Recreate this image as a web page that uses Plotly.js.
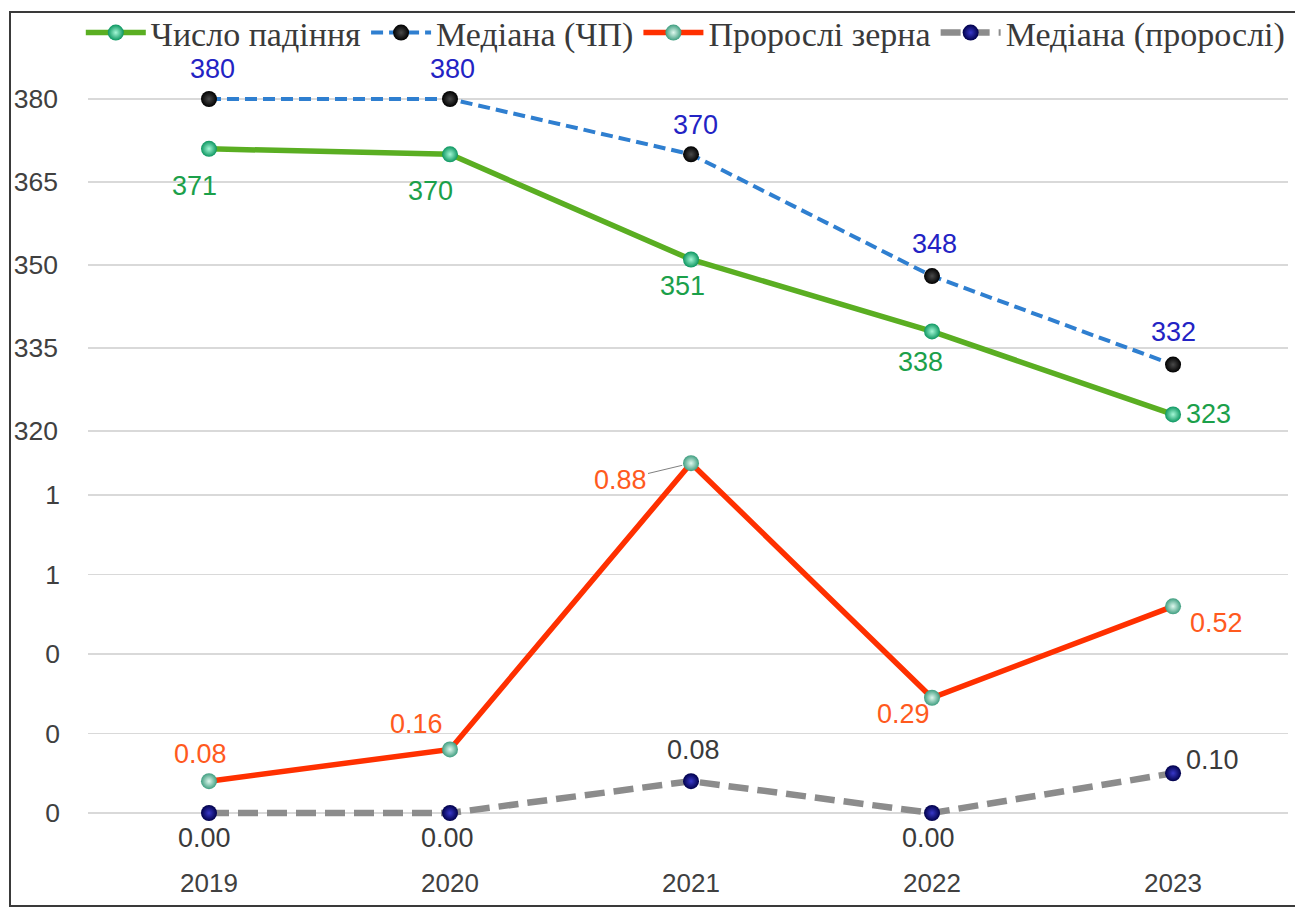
<!DOCTYPE html>
<html>
<head>
<meta charset="utf-8">
<script src="https://cdn.plot.ly/plotly-3.0.1.min.js"></script>
<style>
  html, body { margin:0; padding:0; background:#fff; overflow:hidden; }
  #wrap { position:relative; width:1295px; height:908px; overflow:hidden; }
  #chart { position:absolute; left:0; top:0; width:1295px; height:908px; }
  #frame { position:absolute; left:9px; top:11px; width:1320px; height:892px;
           border:2px solid #3a3a3a; pointer-events:none; }
</style>
</head>
<body>
<div id="wrap">
  <div id="chart"></div>
  <div id="frame"></div>
</div>
<script>
// ---- data ----
const years = ['2019', '2020', '2021', '2022', '2023'];
const fallingNumber = [371, 370, 351, 338, 323];          // Число падіння
const fallingMedian = [380, 380, 370, 348, 332];          // Медіана (ЧП)
const sprouted = [0.08, 0.16, 0.88, 0.29, 0.52];          // Пророслі зерна
const sproutedMedian = [0.00, 0.00, 0.08, 0.00, 0.10];    // Медіана (пророслі)
const topTicks = [320, 335, 350, 365, 380];
const bottomTicks = [0, 0.2, 0.4, 0.6, 0.8];

const seriesNames = ['Число падіння', 'Медіана (ЧП)', 'Пророслі зерна', 'Медіана (пророслі)'];

// label offsets (pixels) per point
const offFalling = [[-14, -37], [-20, -37], [-9, -27], [-12, -31], [35, 0]];
const offFallingMed = [[4, 30], [2, 30], [4, 29], [2, 32], [0, 33]];
const offSprouted = [[-8, 27], [-34, 25], [-71, -17], [-29, -16], [43, -17]];
const offSproutedMed = [[-4, -25], [-3, -25], [2, 31], [-4, -25], [39, 13]];
const leaderIdx = 2; // 0.88 label has a leader line

const labelFont = 'Liberation Sans, Arial, sans-serif';

const traces = [
  {
    x: years, y: fallingNumber, name: seriesNames[0], type: 'scatter', mode: 'lines+markers',
    yaxis: 'y', cliponaxis: false,
    line: { color: '#5aae22', width: 5.5 },
    marker: { size: 16, color: '#0c9660', gradient: { type: 'radial', color: '#a4f7d6' }, line: { width: 0 } }
  },
  {
    x: years, y: fallingMedian, name: seriesNames[1], type: 'scatter', mode: 'lines+markers',
    yaxis: 'y', cliponaxis: false,
    line: { color: '#2f7fd0', width: 4, dash: '12px,6px' },
    marker: { size: 16, color: '#000000', gradient: { type: 'radial', color: '#4a4a4a' }, line: { width: 0 } }
  },
  {
    x: years, y: sprouted, name: seriesNames[2], type: 'scatter', mode: 'lines+markers',
    yaxis: 'y2', cliponaxis: false,
    line: { color: '#ff3000', width: 5.5 },
    marker: { size: 16, color: '#3f9e80', gradient: { type: 'radial', color: '#dff8ee' }, line: { width: 0 } }
  },
  {
    x: years, y: sproutedMedian, name: seriesNames[3], type: 'scatter', mode: 'lines+markers',
    yaxis: 'y2', cliponaxis: false,
    line: { color: '#8c8c8c', width: 6.5, dash: '20px,9px' },
    marker: { size: 16, color: '#00004a', gradient: { type: 'radial', color: '#3838c8' }, line: { width: 0 } }
  }
];

function makeLabels(vals, offs, yref, color, digits, leader) {
  return vals.map((v, i) => {
    const a = {
      x: i, y: v, xref: 'x', yref: yref,
      text: v.toFixed(digits), showarrow: false,
      xshift: offs[i][0], yshift: offs[i][1],
      font: { family: labelFont, size: 27, color: color }
    };
    if (leader === i) {
      a.showarrow = true; a.xshift = 0; a.yshift = 0;
      a.ax = offs[i][0]; a.ay = -offs[i][1];
      a.arrowhead = 0; a.arrowwidth = 1; a.arrowcolor = '#808080'; a.standoff = 9;
    }
    return a;
  });
}

let annotations = []
  .concat(makeLabels(fallingNumber, offFalling, 'y', '#1ba04a', 0))
  .concat(makeLabels(fallingMedian, offFallingMed, 'y', '#2323c4', 0))
  .concat(makeLabels(sprouted, offSprouted, 'y2', '#ff5a1e', 2, leaderIdx))
  .concat(makeLabels(sproutedMedian, offSproutedMed, 'y2', '#3a3a3a', 2));

const layout = {
  width: 1295, height: 908,
  margin: { l: 88, r: 7, t: 40, b: 43, autoexpand: false },
  paper_bgcolor: '#ffffff', plot_bgcolor: '#ffffff',
  showlegend: true,
  legend: {
    orientation: 'h', x: -0.006, xanchor: 'left', y: 1.0085, yanchor: 'middle',
    font: { family: 'Liberation Serif, Times New Roman, serif', size: 34, color: '#3a3a3a' },
    itemwidth: 60, tracegroupgap: 0, bgcolor: 'rgba(0,0,0,0)'
  },
  xaxis: {
    type: 'category', range: [-0.502, 4.477], automargin: false,
    showgrid: false, zeroline: false, showline: false, ticks: '',
    tickfont: { family: labelFont, size: 26, color: '#404040' }
  },
  yaxis: {
    range: [241.566, 390.663], tickvals: topTicks, automargin: false,
    showgrid: true, gridcolor: '#d9d9d9', gridwidth: 1.5,
    zeroline: false, showline: false, ticks: '', ticklabelstandoff: 29,
    tickfont: { family: labelFont, size: 26.5, color: '#404040' }
  },
  yaxis2: {
    overlaying: 'y', side: 'left', automargin: false,
    range: [-0.1308, 1.9447], tickvals: bottomTicks, tickformat: '.0f',
    showgrid: true, gridcolor: '#d9d9d9', gridwidth: 1.5,
    zeroline: false, showline: false, ticks: '', ticklabelstandoff: 27,
    tickfont: { family: labelFont, size: 26.5, color: '#404040' }
  },
  annotations: annotations
};

Plotly.newPlot('chart', traces, layout, { staticPlot: true, displayModeBar: false });
</script>
</body>
</html>
